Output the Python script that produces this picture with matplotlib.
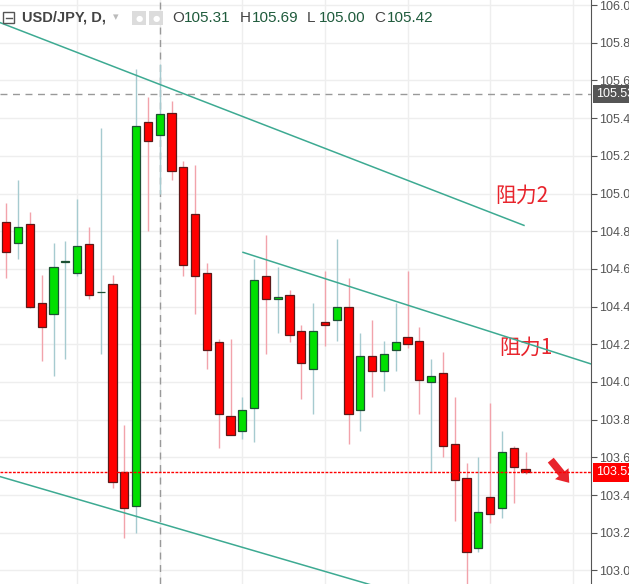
import numpy as np
import matplotlib
matplotlib.use('Agg')
import matplotlib.pyplot as plt
from matplotlib.patches import Rectangle

plt.rcParams['font.family'] = ['Liberation Sans', 'Noto Sans CJK SC', 'DejaVu Sans']

# 日线 OHLC
opens = [104.85, 104.74, 104.84, 104.42, 104.36, 104.635, 104.58, 104.73, 104.475, 104.52,
         103.52, 103.34, 105.38, 105.31, 105.43, 105.14, 104.89, 104.58, 104.21, 103.82,
         103.74, 103.86, 104.56, 104.44, 104.46, 104.27, 104.07, 104.32, 104.33, 104.40,
         103.85, 104.14, 104.06, 104.17, 104.24, 104.22, 104.00, 104.05, 103.67, 103.49,
         103.12, 103.39, 103.33, 103.65, 103.54]
highs = [104.95, 105.07, 104.90, 104.57, 104.74, 104.75, 104.97, 104.82, 105.35, 104.57,
         103.77, 105.66, 105.51, 105.69, 105.49, 105.17, 105.15, 104.63, 104.23, 104.23,
         103.92, 104.65, 104.78, 104.61, 104.49, 104.30, 104.42, 104.59, 104.76, 104.55,
         104.26, 104.33, 104.22, 104.42, 104.59, 104.29, 104.12, 104.16, 103.92, 103.57,
         103.60, 103.89, 103.74, 103.66, 103.63]
lows = [104.55, 104.65, 104.39, 104.11, 104.03, 104.12, 104.56, 104.44, 104.15, 103.44,
        103.17, 103.20, 104.80, 105.00, 105.07, 104.56, 104.36, 104.07, 103.65, 103.72,
        103.70, 103.68, 104.15, 104.26, 104.21, 103.91, 103.83, 104.19, 104.22, 103.67,
        103.74, 103.92, 103.95, 104.06, 104.18, 103.83, 103.52, 103.60, 103.26, 102.93,
        103.10, 103.25, 103.28, 103.36, 103.51]
closes = [104.69, 104.82, 104.40, 104.29, 104.61, 104.64, 104.72, 104.46, 104.48, 103.47,
          103.33, 105.36, 105.28, 105.42, 105.12, 104.62, 104.56, 104.17, 103.83, 103.72,
          103.85, 104.54, 104.44, 104.45, 104.25, 104.10, 104.27, 104.30, 104.40, 103.83,
          104.14, 104.06, 104.15, 104.21, 104.20, 104.01, 104.03, 103.66, 103.48, 103.10,
          103.31, 103.30, 103.63, 103.55, 103.52]

# 趋势线 (K线序号, 价格)
res2_x = [-0.53, 43.87]
res2_y = [105.907, 104.831]
res1_x = [20.06, 58.0]
res1_y = [104.688, 103.926]
sup_x = [-0.53, 30.82]
sup_y = [103.498, 102.925]

last_price = 103.52
cross_price = 105.53
cross_bar = 13
yticks = np.arange(103.0, 106.01, 0.2)
header = [('O', '105.31'), ('H', '105.69'), ('L', '105.00'), ('C', '105.42')]

W, H = 629, 584
fig = plt.figure(figsize=(W / 100, H / 100), dpi=100)
ax = fig.add_axes([0, 0, 591 / W, 1])

x = np.arange(len(opens))
o = np.array(opens); c = np.array(closes)
up = c >= o

# 影线
wick_col = np.where(up, '#a6cbd0', '#f2a3ab')
ax.vlines(x, lows, highs, colors=wick_col, lw=1, zorder=2)

# 实体
bottoms = np.minimum(o, c)
heights = np.maximum(np.abs(c - o), 0.004)
ax.bar(x, heights, bottom=bottoms, width=0.68,
       color=np.where(up, '#00df00', '#ff0000'),
       edgecolor=np.where(up, '#1d5033', '#5c1a1a'), linewidth=0.9, zorder=3)

# 趋势线
for tx, ty in [(res2_x, res2_y), (res1_x, res1_y), (sup_x, sup_y)]:
    ax.plot(tx, ty, color='#3daa92', lw=1.1, zorder=4)

# 十字光标与现价线
ax.axhline(cross_price, color='#999999', lw=1, ls=(0, (5, 4)), zorder=1)
ax.axvline(cross_bar, color='#999999', lw=1, ls=(0, (5, 4)), zorder=1)
ax.axhline(last_price, color='#ff0000', lw=1, ls=(0, (2, 1)), zorder=4)

# 网格
for t in yticks:
    ax.axhline(t, color='#eeeeee', lw=1, zorder=0)
for g in range(6, 50, 7):
    ax.axvline(g, color='#eeeeee', lw=1, zorder=0)

ax.set_xlim(-0.534, 49.55)
ax.set_ylim(102.928, 106.027)
ax.set_xticks([])
ax.yaxis.tick_right()
ax.set_yticks(yticks)
ax.set_yticklabels(['%.2f' % t for t in yticks])
ax.tick_params(axis='y', direction='out', length=4, pad=2, colors='#555555',
               labelsize=9)
for s in ['left', 'top', 'bottom']:
    ax.spines[s].set_visible(False)
ax.spines['right'].set_color('#555555')

# 右侧价格标签
for p, bg in [(cross_price, '#555555'), (last_price, '#ff0000')]:
    ax.annotate('%.2f' % p, xy=(1.0, p), xycoords=('axes fraction', 'data'),
                xytext=(4, 0), textcoords='offset points', va='center', ha='left',
                fontsize=9, color='white', annotation_clip=False,
                bbox=dict(boxstyle='square,pad=0.25', fc=bg, ec='none'))

# 阻力标注
ax.text(41.4, 104.987, '阻力2', color='#e8242c', fontsize=15,
        family=['Noto Sans CJK SC'], va='center', ha='left')
ax.text(41.8, 104.18, '阻力1', color='#e8242c', fontsize=15,
        family=['Noto Sans CJK SC'], va='center', ha='left')
ax.annotate('', xy=(571, H - 485), xycoords='figure pixels',
            xytext=(549, H - 458), textcoords='figure pixels',
            arrowprops=dict(arrowstyle='simple,head_width=1.25,head_length=0.85,tail_width=0.55',
                            color='#e8242c', lw=0))

# 标题栏
def fx(px):
    return px / W
def fy(py):
    return 1 - py / H

fig.patches.append(Rectangle((fx(3), fy(23)), 11 / W, 11 / H, transform=fig.transFigure,
                             fc='white', ec='#555555', lw=1))
fig.lines.append(plt.Line2D([fx(5.5), fx(11.5)], [fy(17.5), fy(17.5)],
                            transform=fig.transFigure, color='#555555', lw=1))
fig.text(fx(22), fy(17), 'USD/JPY, D,', fontsize=10.5, fontweight='bold',
         color='#444444', va='center')
fig.text(fx(113), fy(17), '▾', fontsize=8, color='#bbbbbb', va='center',
         family=['DejaVu Sans'])
for bx in [132, 149]:
    fig.patches.append(Rectangle((fx(bx), fy(25)), 14 / W, 14 / H,
                                 transform=fig.transFigure, fc='#dcdcdc', ec='none'))
    fig.text(fx(bx + 7), fy(18), '●', fontsize=6, color='white', ha='center',
             va='center', family=['DejaVu Sans'])

xpos = 172
for lab, val in header:
    fig.text(fx(xpos), fy(18), lab, fontsize=11, color='#444444', va='center')
    fig.text(fx(xpos + 12), fy(18), val, fontsize=11, color='#1f5b3c', va='center')
    xpos += 67.5

fig.savefig('out.png', dpi=100)
